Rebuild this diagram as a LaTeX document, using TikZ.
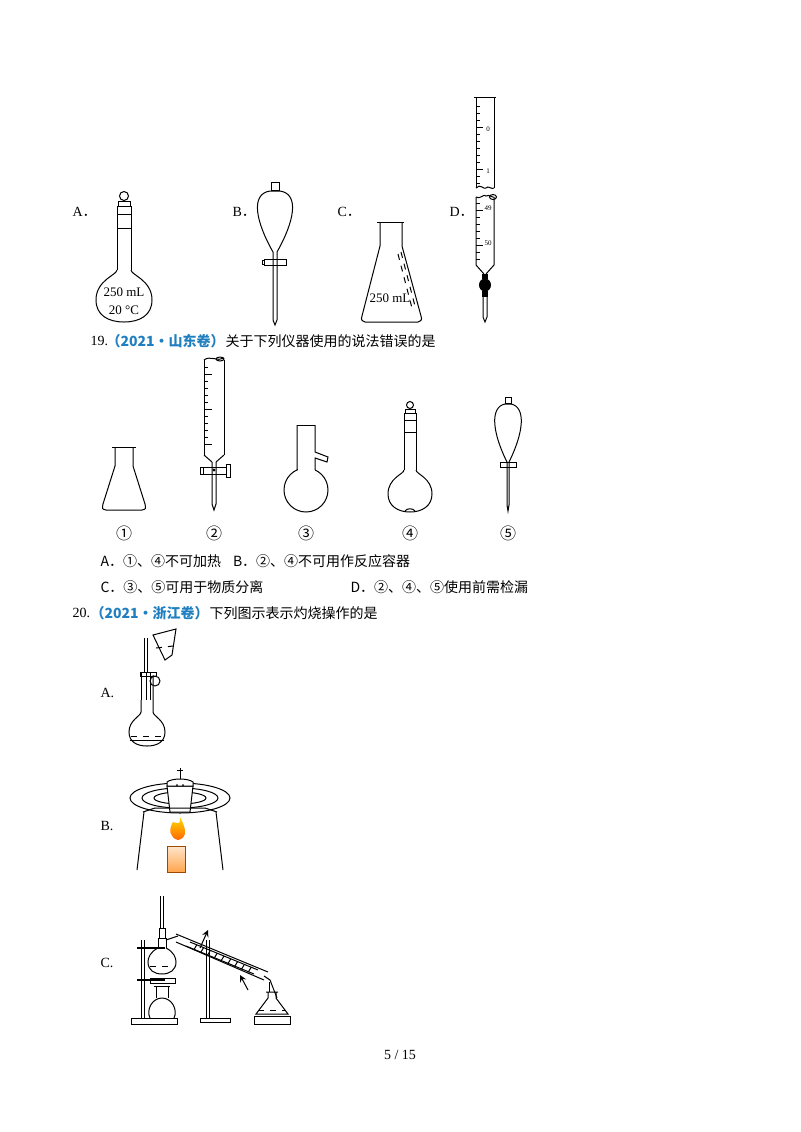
\documentclass[tikz,border=0pt]{standalone}
\usepackage{fontspec}
\setmainfont{Liberation Serif}
\newfontfamily\cjk{Noto Sans CJK SC}
\usetikzlibrary{shapes.geometric,calc}
\definecolor{qblue}{HTML}{1F7FC0}
\begin{document}
\begin{tikzpicture}[x=0.5pt,y=-0.5pt,line width=0.5pt,
  txt/.style={anchor=west,inner sep=0pt,font=\fontsize{7}{8}\selectfont},
  lab/.style={inner sep=0pt,font=\fontsize{6.5}{7}\selectfont},
  tiny/.style={inner sep=0pt,font=\fontsize{3.5}{4}\selectfont}]
\useasboundingbox[fill=white] (0,0) rectangle (800,1132);
% ---------- top row ----------
\node[txt] (la) at (72,212) {A{\cjk ．}};
\node[txt] (lb) at (232,212) {B{\cjk ．}};
\node[txt] (lc) at (337,212) {C{\cjk ．}};
\node[txt] (ld) at (449,212) {D{\cjk ．}};
% A volumetric flask
\draw (124,196) circle (4.5);
\draw (118,201) rectangle (130,206);
\draw (117,206) -- (117,270) (131,206) -- (131,270);
\draw (117,214) -- (131,214) (117,228) -- (131,228);
\draw (117,270) .. controls (117,275) and (96,280) .. (96,300) .. controls (96,315) and (108,322) .. (124,322)
      .. controls (140,322) and (152,315) .. (152,300) .. controls (152,280) and (131,275) .. (131,270);
\node[lab] (a1) at (124,292) {250 mL};
\node[lab] (a2) at (124,310) {20 °C};
% B separatory funnel
\draw (271,182) rectangle (279,190);
\draw (270,191) .. controls (250,194) and (256,222) .. (273,252) -- (273,320) -- (275,325) -- (277,320) -- (277,252)
      .. controls (294,222) and (300,194) .. (280,191) -- cycle;
\draw (264,259) rectangle (286,265);
\draw (262,260) rectangle (264,264);
% C erlenmeyer
\draw (377,222) -- (404,222);
\draw (380,222) -- (380,246) -- (362,316) .. controls (361,320) .. (365,322) -- (418,322) .. controls (422,320) .. (421,316) -- (402,246) -- (402,222);
\draw[dashed] (398,254) -- (413,312) (401,252) -- (416,310);
\node[lab] (c1) at (390,298) {250 mL};
% D burette
\draw (474,97) -- (496,97);
\draw (476,97) -- (476,188) (494,97) -- (494,188);
\draw (476,188) .. controls (480,183) and (484,190) .. (486,188) .. controls (488,185) and (492,190) .. (494,188);
\draw (476,197) .. controls (480,200) and (484,193) .. (486,196) .. controls (490,194) and (492,198) .. (494,197);
\draw (493,197) ellipse (3.5 and 2.5);
\draw (476,197) -- (476,265) -- (484,274) (494,197) -- (494,265) -- (486,274);
\foreach \yy in {106,113,120,127,134,141,148,155,162,169,176,183,203,210,217,224,231,238,245,252,259} \draw (476,\yy) -- (480,\yy);
\foreach \yy in {127,169,210,245} \draw (476,\yy) -- (483,\yy);
\node[tiny] (d0) at (488,129) {0};
\node[tiny] (d1) at (488,171) {1};
\node[tiny] (d49) at (488,208) {49};
\node[tiny] (d50) at (488,243) {50};
\fill (482,274) rectangle (488,279);
\fill (485,285) ellipse (6 and 6.5);
\fill (482,291) rectangle (488,297);
\draw (483,297) -- (483,317) -- (485,322) -- (487,317) -- (487,297);
% question 19
\node[txt] (q19) at (90,341) {19.};
\node[txt,text=qblue,font=\fontsize{7}{8}\selectfont\bfseries\cjk] (s19) at (106,341) {（2021·山东卷）};
\node[txt,font=\fontsize{7}{8}\selectfont\cjk,anchor=west] (t19) at (s19.east) {关于下列仪器使用的说法错误的是};
% (1) erlenmeyer
\draw (112,447) -- (136,447);
\draw (115,447) -- (115,466) -- (103,504) .. controls (102,509) .. (106,510) -- (142,510) .. controls (146,509) .. (145,504) -- (133,466) -- (133,447);
% (2) burette
\draw (204,360) -- (204,455) (224,360) -- (224,455);
\draw (204,360) .. controls (210,355) and (218,362) .. (224,358);
\draw (220,359) ellipse (4 and 2);
\foreach \yy in {367,374,381,388,395,402,409,416,423,430,437,444} \draw (204,\yy) -- (208,\yy);
\foreach \yy in {374,409,444} \draw (204,\yy) -- (212,\yy);
\draw (204,455) -- (212,462) (224,455) -- (216,462);
\draw (212,462) -- (212,504) -- (214,510) -- (216,504) -- (216,462);
\draw (203,467) rectangle (226,474);
\draw (200,467) rectangle (203,474);
\draw (226,464) rectangle (230,477);
\draw (214,470) circle (1);
% (3) flask with side arm
\draw (306,490) circle (22);
\fill[white] (297.5,460) rectangle (314.5,472);
\draw (297,425) -- (315,425);
\draw (297,425) -- (297,470) (315,425) -- (315,452) -- (328,457) -- (327,462) -- (315,458) -- (315,470);
% (4) volumetric flask
\draw (410,405) circle (3.5);
\draw (405,409) rectangle (415,413);
\draw (404,413) -- (404,470) (416,413) -- (416,470);
\draw (404,420) -- (416,420) (404,432) -- (416,432);
\draw (404,470) .. controls (404,474) and (388,478) .. (388,494) .. controls (388,506) and (398,512) .. (410,512)
      .. controls (422,512) and (432,506) .. (432,494) .. controls (432,478) and (416,474) .. (416,470);
\draw (405,511) .. controls (407,508) and (413,508) .. (415,511);
% (5) separatory funnel
\draw (505,397) rectangle (511,403);
\draw (505,404) .. controls (490,407) and (492,432) .. (507,462) -- (507,505) -- (508,511) -- (509,505) -- (509,462)
      .. controls (524,432) and (526,407) .. (511,404) -- cycle;
\draw (500,462) rectangle (516,467);
\node[font=\fontsize{8}{9}\selectfont\cjk,inner sep=0pt] (n1) at (124,533) {①};
\node[font=\fontsize{8}{9}\selectfont\cjk,inner sep=0pt] (n2) at (214,533) {②};
\node[font=\fontsize{8}{9}\selectfont\cjk,inner sep=0pt] (n3) at (306,533) {③};
\node[font=\fontsize{8}{9}\selectfont\cjk,inner sep=0pt] (n4) at (410,533) {④};
\node[font=\fontsize{8}{9}\selectfont\cjk,inner sep=0pt] (n5) at (508,533) {⑤};
\node[txt,font=\fontsize{7}{8}\selectfont\cjk] (oa) at (100,561) {A．①、④不可加热\hspace{6pt}B．②、④不可用作反应容器};
\node[txt,font=\fontsize{7}{8}\selectfont\cjk] (oc) at (100,587) {C．③、⑤可用于物质分离};
\node[txt,font=\fontsize{7}{8}\selectfont\cjk] (od) at (350,587) {D．②、④、⑤使用前需检漏};
% question 20
\node[txt] (q20) at (72,613) {20.};
\node[txt,text=qblue,font=\fontsize{7}{8}\selectfont\bfseries\cjk] (s20) at (90,613) {（2021·浙江卷）};
\node[txt,font=\fontsize{7}{8}\selectfont\cjk,anchor=west] (t20) at (s20.east) {下列图示表示灼烧操作的是};
% 20A
\node[txt] (pa) at (100,693) {A.};
\draw (144,638) -- (144,672) (147,638) -- (147,672);
\draw (146,672) -- (146,700) (150,672) -- (150,700);
\draw (141,672) -- (141,700);
\draw (141,700) -- (141,712) .. controls (141,716) and (129,720) .. (129,732) .. controls (129,742) and (137,746) .. (147,746)
      .. controls (157,746) and (165,742) .. (165,732) .. controls (165,720) and (153,716) .. (153,712) -- (153,675);
\draw[dashed] (131,736) -- (163,736);
\draw (130,740) -- (164,740);
\draw (140,672) rectangle (156,676);
\draw (155,681) circle (5);
\draw (153,635) -- (176,629) -- (172,655) -- (165,660) -- cycle;
\draw[dashed] (156,648) -- (173,646);
% 20B
\node[txt] (pb) at (100,826) {B.};
\draw (180,780) -- (180,768);
\draw (177,770) -- (183,770);
\draw (180,798) ellipse (50 and 15);
\draw (180,798) ellipse (38 and 10);
\draw (180,798) ellipse (26 and 6);
\draw[fill=white] (167,786) -- (193,786) -- (190,812) -- (170,812) -- cycle;
\draw[fill=white] (167,786) -- (193,786) -- (193,782) .. controls (188,778) and (172,778) .. (167,782) -- cycle;
\fill (177,785) circle (1) (183,785) circle (1);
\draw (143,812) -- (155,808) -- (205,808) -- (217,812);
\draw (144,812) -- (137,870) (216,812) -- (223,870);
\shade[top color=yellow!70!orange,bottom color=orange!80!red] (173,822) .. controls (168,830) and (170,838) .. (178,840) .. controls (187,838) and (187,830) .. (180,817) .. controls (180,824) .. (173,822);
\shade[top color=orange!20!white,bottom color=orange!70] (167,846) rectangle (185,872);
\draw[orange!60!black,line width=0.3pt] (167,846) rectangle (185,872);
% 20C
\node[txt] (pc) at (100,963) {C.};
% left stand
\draw (131,1018) rectangle (177,1024);
\draw (141,940) -- (141,1018) (144,940) -- (144,1018);
\draw[line width=1.2pt] (137,948) -- (165,948) (137,980) -- (165,980);
\draw (150,978) rectangle (175,983);
% thermometer
\draw (160,896) -- (160,928) (163,896) -- (163,928);
\draw (159,928) rectangle (165,938);
\draw (158,938) -- (158,948) (166,938) -- (166,948);
\draw (158,948) .. controls (150,952) and (148,958) .. (148,962) .. controls (148,970) and (154,974) .. (162,974)
      .. controls (170,974) and (176,970) .. (176,962) .. controls (176,958) and (174,952) .. (166,948);
\draw[dashed] (150,966) -- (174,966);
% burner
\draw (154,986) -- (170,986) (156,986) -- (156,998) (168,986) -- (168,998);
\draw (150,1018) .. controls (146,1010) and (152,998) .. (162,998) .. controls (172,998) and (178,1010) .. (174,1018);
% condenser
\draw (166,940) -- (178,936);
\draw (176,934) -- (268,972) (176,942) -- (264,980);
\draw (186,946) -- (254,974) (190,942) -- (258,970);
\foreach \pp in {0.1,0.2,0.3,0.4,0.5,0.6,0.7,0.8,0.9} \draw ($(190,942)!\pp!(258,970)$) -- ++(-3,5);
\draw[->,>=stealth] (200,948) -- (208,930);
\draw[<-,>=stealth] (240,975) -- (248,990);
% right stand
\draw (206,940) -- (206,1018) (209,940) -- (209,1018);
\draw (200,1018) -- (230,1018) -- (230,1022) -- (200,1022) -- cycle;
% receiver
\draw (264,976) -- (270,980) -- (277,998);
\draw (269,982) -- (269,992);
\draw (266,992) -- (278,992) (268,992) -- (268,998) -- (256,1014) -- (288,1014) -- (276,998) -- (276,992);
\draw[dashed] (258,1010) -- (286,1010);
\draw (254,1016) rectangle (290,1024);
\node[inner sep=0pt,font=\fontsize{7}{8}\selectfont] (pg) at (400,1055) {5 / 15};
\end{tikzpicture}
\end{document}
